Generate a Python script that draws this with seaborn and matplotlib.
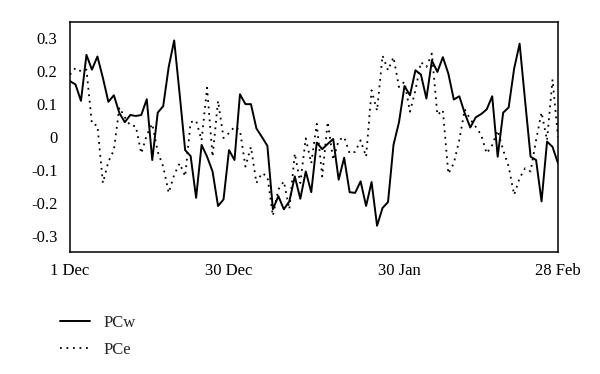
import numpy as np
import pandas as pd
import matplotlib
matplotlib.use("Agg")
import matplotlib.pyplot as plt
import seaborn as sns

# ---- data ----
pcw = [0.17, 0.16, 0.11, 0.25, 0.205, 0.245, 0.18, 0.107, 0.127, 0.073,
       0.045, 0.067, 0.064, 0.067, 0.115, -0.07, 0.074, 0.094, 0.213, 0.294,
       0.13, -0.04, -0.058, -0.185, -0.024, -0.06, -0.105, -0.21, -0.19, -0.04,
       -0.07, 0.13, 0.10, 0.10, 0.026, 0.0, -0.027, -0.22, -0.18, -0.22,
       -0.196, -0.12, -0.188, -0.105, -0.168, -0.017, -0.037, -0.021, -0.006, -0.13,
       -0.063, -0.168, -0.17, -0.135, -0.21, -0.137, -0.27, -0.216, -0.198, -0.024,
       0.045, 0.155, 0.127, 0.203, 0.19, 0.117, 0.233, 0.198, 0.243, 0.193,
       0.114, 0.124, 0.072, 0.029, 0.06, 0.07, 0.084, 0.124, -0.06, 0.074,
       0.09, 0.208, 0.284, 0.11, -0.06, -0.07, -0.196, -0.014, -0.03, -0.08]

pce = [0.19, 0.21, 0.2, 0.205, 0.04, 0.035, -0.14, -0.075, -0.04, 0.09,
       0.06, 0.035, 0.033, -0.05, 0.006, 0.04, -0.045, -0.09, -0.17, -0.115,
       -0.08, -0.12, 0.045, 0.05, -0.01, 0.15, -0.06, 0.11, -0.003, 0.012,
       0.031, 0.02, -0.09, -0.03, -0.14, -0.11, -0.12, -0.24, -0.16, -0.135,
       -0.22, -0.05, -0.14, -0.004, -0.08, 0.04, -0.12, 0.046, -0.07, -0.01,
       0.0, -0.05, -0.045, -0.01, -0.06, 0.142, 0.08, 0.248, 0.203, 0.243,
       0.152, 0.168, 0.077, 0.142, 0.228, 0.213, 0.254, 0.067, 0.082, -0.112,
       -0.08, -0.009, 0.084, 0.054, 0.031, 0.006, -0.05, -0.025, 0.02, -0.04,
       -0.09, -0.176, -0.125, -0.095, -0.105, -0.01, 0.075, -0.01, 0.175, 0.0]

days = list(range(len(pcw)))
xtick_pos = [0, 29, 60, 89]
xtick_labels = ["1 Dec", "30 Dec", "30 Jan", "28 Feb"]
ytick_vals = [0.3, 0.2, 0.1, 0, -0.1, -0.2, -0.3]
ytick_labels = ["0.3", "0.2", "0.1", "0", "-0.1", "-0.2", "-0.3"]
series_names = ["PCw", "PCe"]

df = pd.DataFrame({"day": days, "PCw": pcw, "PCe": pce})

sns.set_style("white")
plt.rcParams["font.family"] = ["Liberation Serif", "DejaVu Serif"]

fig = plt.figure(figsize=(6.0, 3.74), dpi=100)
ax = fig.add_axes([70/600, 1-252/374, (558-70)/600, (252-22)/374])

sns.lineplot(data=df, x="day", y="PCw", ax=ax, color="black",
             linewidth=1.4, label=series_names[0])
sns.lineplot(data=df, x="day", y="PCe", ax=ax, color="black",
             linewidth=1.3, linestyle=(0, (1, 2.6)), label=series_names[1])

ax.set_xlim(0, 89)
ax.set_ylim(-0.35, 0.35)
ax.set_xticks(xtick_pos)
ax.set_xticklabels(xtick_labels, fontsize=12)
ax.set_yticks(ytick_vals)
ax.set_yticklabels(ytick_labels, fontsize=12)
ax.set_xlabel("")
ax.set_ylabel("")

for s in ax.spines.values():
    s.set_visible(True)
    s.set_color("black")
    s.set_linewidth(1.1)

ax.tick_params(axis="y", direction="out", length=4, width=1, pad=5, colors="black")
ax.tick_params(axis="x", direction="in", length=3, width=1, pad=8, colors="black")

leg = ax.legend(loc="upper left", bbox_to_anchor=(60/600, 1-315/374),
                bbox_transform=fig.transFigure, frameon=False, fontsize=12,
                handlelength=1.8, handletextpad=0.8, labelspacing=0.63,
                borderpad=0, borderaxespad=0)

fig.savefig("out.png", dpi=100)
